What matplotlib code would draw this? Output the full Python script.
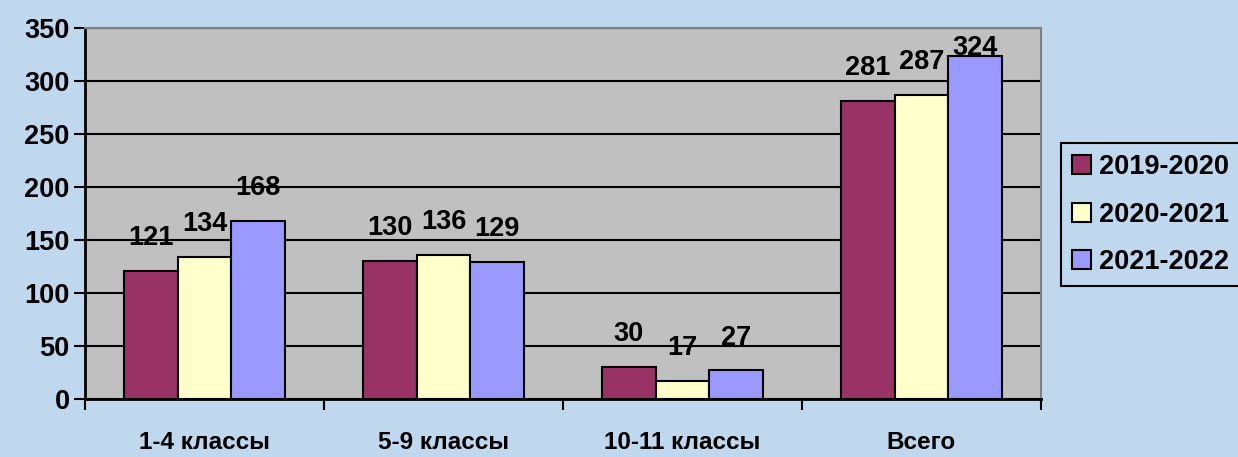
import numpy as np
import matplotlib.pyplot as plt
from matplotlib.patches import Patch

categories = ["1-4 классы", "5-9 классы", "10-11 классы", "Всего"]
years = ["2019-2020", "2020-2021", "2021-2022"]
v2019 = [121, 130, 30, 281]
v2020 = [134, 136, 17, 287]
v2021 = [168, 129, 27, 324]
colors = ["#993366", "#FFFFCC", "#9999FF"]

plt.rcParams['font.family'] = ['Liberation Sans', 'DejaVu Sans']
plt.rcParams['font.weight'] = 'bold'
fs = 19.5

bg = "#C0D8EE"
fig = plt.figure(figsize=(12.38, 4.57), dpi=100, facecolor=bg)
ax = fig.add_axes([85 / 1238, 1 - 399 / 457, 956 / 1238, 371 / 457])
ax.set_facecolor("#C0C0C0")

x = np.arange(len(categories))
w = 0.224
series = [v2019, v2020, v2021]
for i, vals in enumerate(series):
    pos = x + (i - 1) * w
    ax.bar(pos, vals, width=w, color=colors[i], edgecolor="black", linewidth=1.5, zorder=3)
    for px, v in zip(pos, vals):
        # labels sit above the bar, but are kept inside the chart area
        ly = min(v + 31, 331)
        ax.text(px, ly, str(v), ha="center", va="center", fontsize=fs,
                fontweight="bold", zorder=4, clip_on=False)

ax.set_xlim(-0.5, len(categories) - 0.5)
ax.set_ylim(0, 350)
ax.set_yticks(np.arange(0, 351, 50))
ax.yaxis.grid(True, color="black", linewidth=1.5, zorder=1)
ax.set_axisbelow(True)

ax.set_xticks(np.arange(-0.5, len(categories), 1.0))
ax.set_xticklabels([])
ax.set_xticks(x, minor=True)
ax.set_xticklabels(categories, minor=True, fontsize=17.5, fontweight="bold")
ax.tick_params(axis="x", which="minor", length=0, pad=23)
ax.tick_params(axis="x", which="major", length=8, width=1.5, direction="out")
ax.tick_params(axis="y", length=8, width=1.5, labelsize=fs, pad=3)
for lbl in ax.get_yticklabels():
    lbl.set_fontweight("bold")

for side in ["left", "bottom"]:
    ax.spines[side].set_color("black")
    ax.spines[side].set_linewidth(2)
for side in ["top", "right"]:
    ax.spines[side].set_color("#808080")
    ax.spines[side].set_linewidth(1.5)

handles = [Patch(facecolor=c, edgecolor="black", linewidth=1.5) for c in colors]
leg = fig.legend(handles, years, loc="upper left", bbox_to_anchor=(1061 / 1238, 1 - 143 / 457),
                 frameon=True, prop={"weight": "bold", "size": fs},
                 handlelength=0.7, handleheight=0.7, handletextpad=0.3, labelspacing=0.8,
                 borderpad=0.4, borderaxespad=0, fancybox=False, framealpha=1)
leg.get_frame().set_facecolor(bg)
leg.get_frame().set_edgecolor("black")
leg.get_frame().set_linewidth(1.5)

fig.savefig("out.png", dpi=100, facecolor=bg)
